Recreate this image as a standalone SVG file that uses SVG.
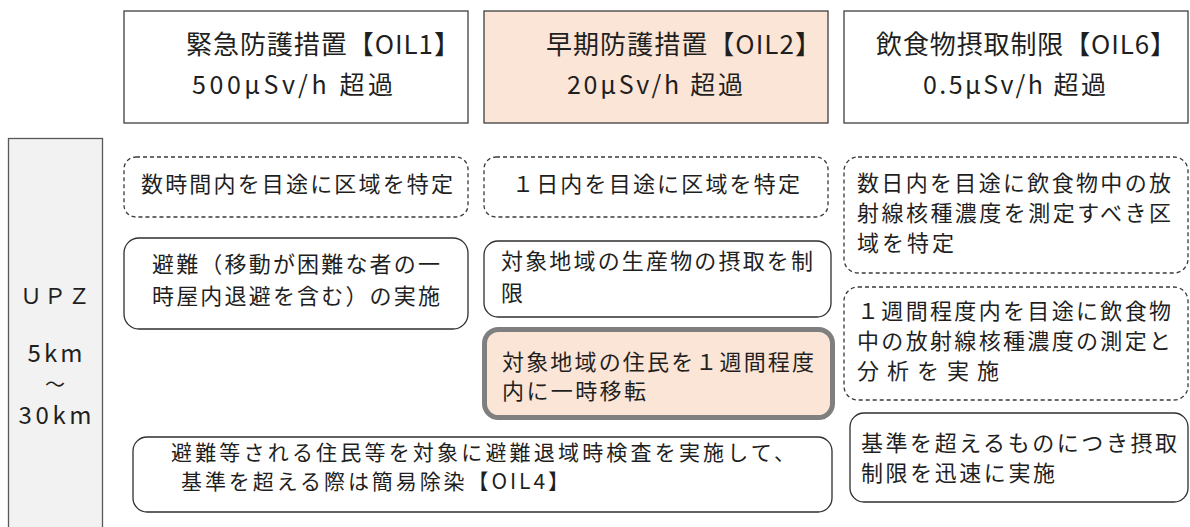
<svg xmlns="http://www.w3.org/2000/svg" width="1190" height="527" viewBox="0 0 1190 527">
<style>
text{font-family:"Noto Sans CJK JP","Noto Sans",sans-serif;fill:#1f1f1f;}
.hdr{fill:#ffffff;stroke:#3f3f3f;stroke-width:1.3;}
.hdrp{fill:#fbe5d6;stroke:#3f3f3f;stroke-width:1.3;}
.dash{fill:#ffffff;stroke:#3a3a3a;stroke-width:1.3;stroke-dasharray:4 3;}
.solid{fill:#ffffff;stroke:#2f2f2f;stroke-width:1.3;}
.hl{fill:#fbe5d6;stroke:#7f7f7f;stroke-width:5;}
.upz{fill:#f2f2f2;stroke:#595959;stroke-width:1.3;}
.t1{font-size:26px;}
.t2{font-size:25px;}
.b{font-size:22px;}
.bs{font-size:21px;}
</style>
<rect width="1190" height="527" fill="#ffffff"/>

<g id="header-oil1">
<rect class="hdr" x="124" y="11" width="344" height="112"/>
<text class="t1" x="186" y="54" textLength="274" lengthAdjust="spacing">緊急防護措置【OIL1】</text>
<text class="t2" x="192" y="94" textLength="201" lengthAdjust="spacing">500μSv/h 超過</text>
</g>

<g id="header-oil2">
<rect class="hdrp" x="484" y="11" width="344" height="112"/>
<text class="t1" x="546" y="54" textLength="275" lengthAdjust="spacing">早期防護措置【OIL2】</text>
<text class="t2" x="567" y="94" textLength="176" lengthAdjust="spacing">20μSv/h 超過</text>
</g>

<g id="header-oil6">
<rect class="hdr" x="844" y="11" width="344" height="112"/>
<text class="t1" x="876" y="54" textLength="300" lengthAdjust="spacing">飲食物摂取制限【OIL6】</text>
<text class="t2" x="923" y="94" textLength="183" lengthAdjust="spacing">0.5μSv/h 超過</text>
</g>

<g id="upz">
<rect class="upz" x="8.5" y="138.5" width="94" height="400"/>
<text x="55" y="304" font-size="22" text-anchor="middle" textLength="70" lengthAdjust="spacing">ＵＰＺ</text>
<text x="55" y="362" font-size="24" text-anchor="middle" textLength="55" lengthAdjust="spacing">5km</text>
<text x="55" y="392" font-size="20" text-anchor="middle">～</text>
<text x="55" y="424" font-size="24" text-anchor="middle" textLength="73" lengthAdjust="spacing">30km</text>
</g>

<g id="oil1-identify">
<rect class="dash" x="124" y="157" width="344" height="60" rx="12"/>
<text class="b" x="141" y="192" textLength="312" lengthAdjust="spacing">数時間内を目途に区域を特定</text>
</g>

<g id="oil2-identify">
<rect class="dash" x="484" y="157" width="344" height="60" rx="12"/>
<text class="b" x="512" y="192" textLength="288" lengthAdjust="spacing">１日内を目途に区域を特定</text>
</g>

<g id="oil6-identify">
<rect class="dash" x="844" y="157" width="344" height="116" rx="14"/>
<text class="b" x="857" y="191" textLength="314" lengthAdjust="spacing">数日内を目途に飲食物中の放</text>
<text class="b" x="857" y="221" textLength="314" lengthAdjust="spacing">射線核種濃度を測定すべき区</text>
<text class="b" x="857" y="251" textLength="97" lengthAdjust="spacing">域を特定</text>
</g>

<g id="oil1-evacuation">
<rect class="solid" x="124" y="238" width="344" height="91" rx="15"/>
<text class="b" x="152" y="272" textLength="288" lengthAdjust="spacing">避難（移動が困難な者の一</text>
<text class="b" x="152" y="304" textLength="288" lengthAdjust="spacing">時屋内退避を含む）の実施</text>
</g>

<g id="oil2-intake">
<rect class="solid" x="484" y="241" width="347" height="76" rx="14"/>
<text class="b" x="501" y="269" textLength="312" lengthAdjust="spacing">対象地域の生産物の摂取を制</text>
<text class="b" x="501" y="301">限</text>
</g>

<g id="oil2-relocation">
<rect class="hl" x="484.5" y="329.5" width="348" height="88" rx="14"/>
<text class="b" x="502" y="370" textLength="312" lengthAdjust="spacing">対象地域の住民を１週間程度</text>
<text class="b" x="502" y="399" textLength="144" lengthAdjust="spacing">内に一時移転</text>
</g>

<g id="oil6-measure">
<rect class="dash" x="844" y="287" width="344" height="113" rx="14"/>
<text class="b" x="857" y="319" textLength="314" lengthAdjust="spacing">１週間程度内を目途に飲食物</text>
<text class="b" x="857" y="349" textLength="314" lengthAdjust="spacing">中の放射線核種濃度の測定と</text>
<text class="b" x="857" y="379" textLength="142" lengthAdjust="spacing">分 析 を 実 施</text>
</g>

<g id="oil6-restrict">
<rect class="solid" x="850" y="413" width="338" height="89" rx="14"/>
<text class="b" x="861" y="451" textLength="316" lengthAdjust="spacing">基準を超えるものにつき摂取</text>
<text class="b" x="861" y="481" textLength="194" lengthAdjust="spacing">制限を迅速に実施</text>
</g>

<g id="oil4-screening">
<rect class="solid" x="133" y="437" width="699" height="75" rx="14"/>
<text class="bs" x="171" y="460" textLength="624" lengthAdjust="spacing">避難等される住民等を対象に避難退域時検査を実施して、</text>
<text class="bs" x="181" y="489" textLength="388" lengthAdjust="spacing">基準を超える際は簡易除染【OIL4】</text>
</g>

<g id="connectors"></g>
</svg>
